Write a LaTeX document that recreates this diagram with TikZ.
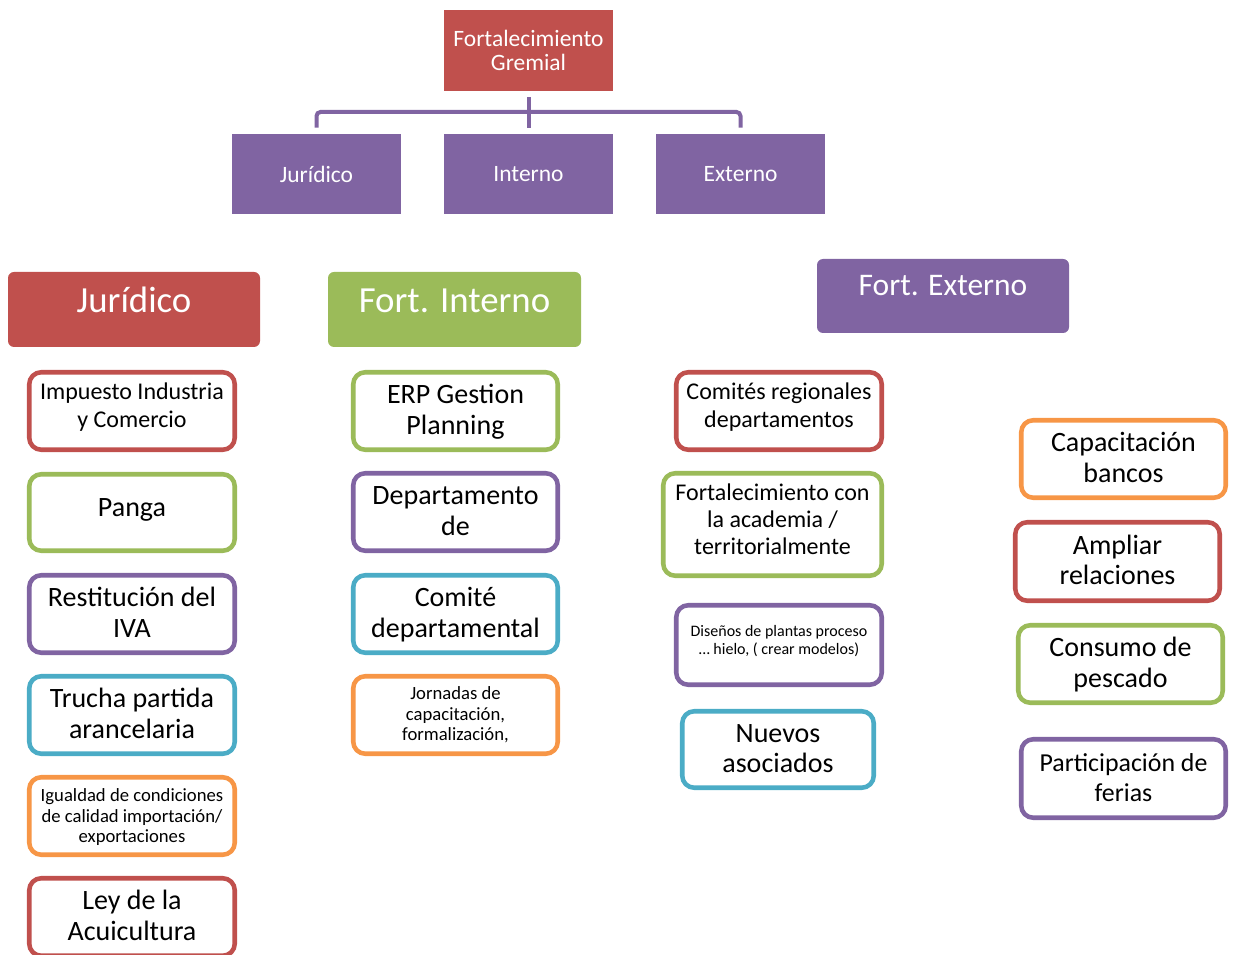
\documentclass[tikz,border=0pt]{standalone}
\usepackage{fontspec}
\setmainfont{Carlito}
\definecolor{cred}{HTML}{C0504D}
\definecolor{cgreen}{HTML}{9BBB59}
\definecolor{cpurple}{HTML}{8064A2}
\definecolor{cblue}{HTML}{4BACC6}
\definecolor{corange}{HTML}{F79646}
\newcommand\fsTop{\fontsize{17.6}{17.4}\selectfont}
\newcommand\fsHdr{\fontsize{27.6}{30}\selectfont}
\newcommand\fsHdrB{\fontsize{23.6}{26}\selectfont}
\newcommand\fsBig{\fontsize{21}{23}\selectfont}
\newcommand\fsMid{\fontsize{18}{21}\selectfont}
\newcommand\fsMidB{\fontsize{18}{20.3}\selectfont}
\newcommand\fsPart{\fontsize{19.4}{23}\selectfont}
\newcommand\fsSm{\fontsize{14}{15.4}\selectfont}
\newcommand\fsXs{\fontsize{12}{13.5}\selectfont}
\newcommand\ts{\rule{0pt}{\dimexpr0.7\baselineskip+3pt\relax}}
\begin{document}
\begin{tikzpicture}[x=0.75pt,y=-0.75pt,
  fillsz/.style 2 args={minimum width={#1*0.75pt}, minimum height={#2*0.75pt}},
  sz/.style 2 args={minimum width={(#1-4.5)*0.75pt}, minimum height={(#2-4.5)*0.75pt}},
  topbox/.style={fill=cred, text=white, font=\fsTop, align=center, inner sep=0pt},
  lvlbox/.style={fill=cpurple, text=white, font=\fsTop, align=center, inner sep=0pt},
  hdrbox/.style={fill=#1, rounded corners=4.5pt, inner sep=0pt},
  hdrtext/.style={text=white, inner sep=0pt, anchor=base},
  card/.style={draw=#1, line width=3.4pt, rounded corners=9pt, fill=white, align=center,
    inner sep=0pt, text=black, execute at end node=\strut},
  tup/.style={execute at end node={\rule[\dimexpr-0.3\baselineskip-#1\relax]{0pt}{0pt}}},
  plain/.style={align=center, inner sep=0pt, text=black},
  conn/.style={draw=cpurple, line width=3pt, rounded corners=3pt}]
\useasboundingbox (0,0) rectangle (1240,955);
\clip (0,0) rectangle (1240,955);

% ---- top hierarchy ----
\node[topbox, fillsz={169}{81}] (root) at (528.5,50.5) {Fortalecimiento\\Gremial};
\node[lvlbox, fillsz={169}{80}] (jur) at (316.5,174) {Jurídico};
\node[lvlbox, fillsz={169}{80}] (int) at (528.5,174) {Interno};
\node[lvlbox, fillsz={169}{80}] (ext) at (740.5,174) {Externo};
\coordinate (bar) at (528.5,112);
\draw[conn] ([yshift=-4.5pt]root.south) -- ([yshift=4.5pt]int.north);
\draw[conn] ([yshift=4.5pt]jur.north) |- (bar) -| ([yshift=4.5pt]ext.north);

% ---- headers ----
\node[hdrbox=cred, fillsz={252}{75}] (hj) at (134,309.5) {};
\node[hdrtext, font=\fsHdr] (hjt) at (134,313) {Jurídico};
\node[hdrbox=cgreen, fillsz={253}{75}] (hi) at (454.5,309.5) {};
\node[hdrtext, font=\fsHdr] (hit) at (454.5,313) {Fort. Interno};
\node[hdrbox=cpurple, fillsz={252}{74}] (he) at (943,296) {};
\node[hdrtext, font=\fsHdrB] (het) at (943,296) {Fort. Externo};

% ---- left column ----
\node[card=cred, sz={210}{82}, font=\fsMid, tup=7.5pt] (l1) at (132,411) {\ts Impuesto Industria\\y Comercio};
\node[card=cgreen, sz={210}{81}, font=\fsBig, tup=6pt] (l2) at (132,512.5) {\ts Panga};
\node[card=cpurple, sz={210}{82}, font=\fsBig] (l3) at (132,614) {\ts Restitución del\\IVA};
\node[card=cblue, sz={210}{82}, font=\fsBig] (l4) at (132,715) {\ts Trucha partida\\arancelaria};
\node[card=corange, sz={210}{82}, font=\fsSm] (l5) at (132,816) {\ts Igualdad de condiciones\\de calidad importación/\\exportaciones};
\node[card=cred, sz={210}{82}, font=\fsBig] (l6) at (132,917) {\ts Ley de la\\Acuicultura};

% ---- middle column ----
\node[card=cgreen, sz={209}{82}, font=\fsBig] (m1) at (455.5,411) {\ts ERP Gestion\\Planning};
\node[card=cpurple, sz={209}{82}, font=\fsBig] (m2) at (455.5,512) {\ts Departamento\\de};
\node[card=cblue, sz={209}{82}, font=\fsBig] (m3) at (455.5,614) {\ts Comité\\departamental};
\node[card=corange, sz={209}{82}] (m4) at (455.5,715) {};
\node[plain, font=\fsSm, anchor=north] (m4t) at (455.5,686.5) {Jornadas de\\capacitación,\\formalización,};

% ---- right column 1 ----
\node[card=cred, sz={210}{82}, font=\fsMid, tup=7.5pt] (r1) at (779,411) {\ts Comités regionales\\departamentos};
\node[card=cgreen, sz={223}{107}, font=\fsMidB, tup=6pt] (r2) at (772.5,524.5) {\ts Fortalecimiento con\\la academia /\\territorialmente};
\node[card=cpurple, sz={210}{84}] (r3) at (779,645) {};
\node[plain, font=\fsXs, anchor=north] (r3t) at (779,625) {Diseños de plantas proceso\\… hielo, ( crear modelos)};
\node[card=cblue, sz={196}{81}, font=\fsBig] (r4) at (778,749.5) {\ts Nuevos\\asociados};

% ---- right column 2 ----
\node[card=corange, sz={209}{82}, font=\fsBig] (c1) at (1123.5,459) {\ts Capacitación\\bancos};
\node[card=cred, sz={209}{83}, font=\fsBig] (c2) at (1117.5,561.5) {\ts Ampliar\\relaciones};
\node[card=cgreen, sz={209}{82}, font=\fsBig] (c3) at (1120.5,664) {\ts Consumo de\\pescado};
\node[card=cpurple, sz={209}{83}, font=\fsPart] (c4) at (1123.5,778.5) {\ts Participación de\\ferias};
\end{tikzpicture}
\end{document}
